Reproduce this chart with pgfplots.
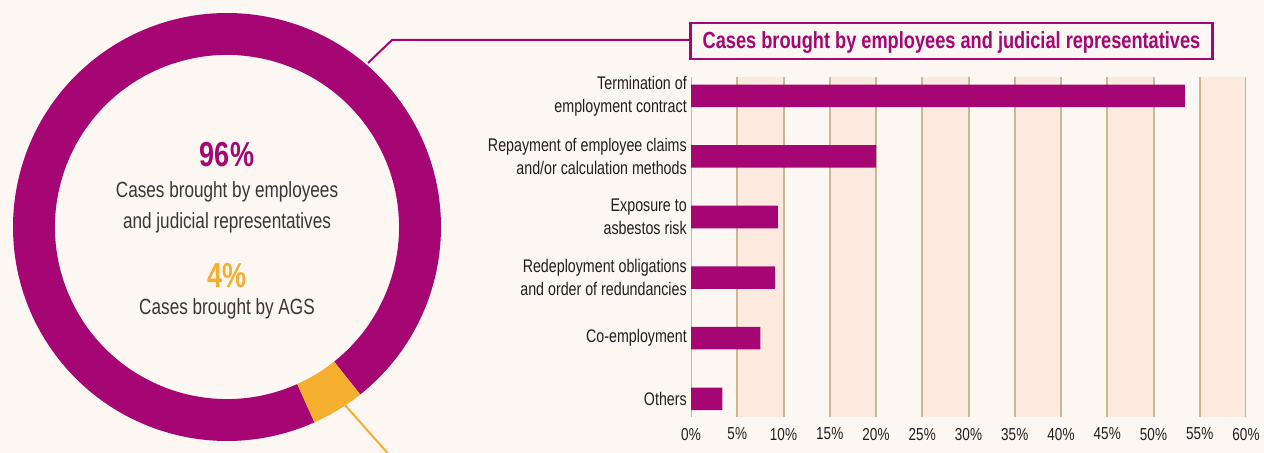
\documentclass[border=0pt]{standalone}
\usepackage{pgfplots}
\pgfplotsset{compat=1.18}
\usepackage{fontspec}
\setmainfont{Liberation Sans}[FakeStretch=0.78]

\definecolor{plum}{HTML}{A50673}
\definecolor{amber}{HTML}{F5AE2E}
\definecolor{paper}{HTML}{FCF7F3}
\definecolor{band}{HTML}{FCEADF}
\definecolor{rule}{HTML}{C7B996}
\definecolor{ink}{HTML}{231F20}
\definecolor{softink}{HTML}{3B3637}

% shares of the two groups of claimants (percent)
\def\shareEmployees{96}
\def\shareAGS{4}
% the AGS slice is centred at -58.7 degrees; the rest of the ring follows it
\pgfmathsetmacro\agsStart{-58.7-1.8*\shareAGS}
\pgfmathsetmacro\agsEnd{\agsStart+3.6*\shareAGS}
\pgfmathsetmacro\empEnd{\agsEnd+3.6*\shareEmployees}
\def\rin{0.804}
\pgfmathsetmacro\aOx{cos(\agsStart)}\pgfmathsetmacro\aOy{sin(\agsStart)}
\pgfmathsetmacro\aIx{\rin*cos(\agsEnd)}\pgfmathsetmacro\aIy{\rin*sin(\agsEnd)}
\pgfmathsetmacro\eOx{cos(\agsEnd)}\pgfmathsetmacro\eOy{sin(\agsEnd)}
\pgfmathsetmacro\eIx{\rin*cos(\empEnd)}\pgfmathsetmacro\eIy{\rin*sin(\empEnd)}

\begin{document}
\begin{tikzpicture}[x=0.75pt,y=0.75pt]
\fill[paper] (0,0) rectangle (1264,453);

% ring chart: share of cases by claimant
\begin{axis}[
  at={(170.25pt,169.5pt)}, anchor=center,
  scale only axis, width=321pt, height=321pt,
  xmin=-1, xmax=1, ymin=-1, ymax=1,
  hide axis, clip=false]
\fill[plum] (axis cs:\eOx,\eOy) arc[start angle=\agsEnd, end angle=\empEnd, radius=1]
  -- (axis cs:\eIx,\eIy) arc[start angle=\empEnd, end angle=\agsEnd, radius=\rin] -- cycle;
\fill[amber] (axis cs:\aOx,\aOy) arc[start angle=\agsStart, end angle=\agsEnd, radius=1]
  -- (axis cs:\aIx,\aIy) arc[start angle=\agsEnd, end angle=\agsStart, radius=\rin] -- cycle;
\end{axis}

% bar chart: types of case
\begin{axis}[
  at={(518.25pt,27pt)}, anchor=south west,
  scale only axis, width=416.25pt, height=255pt,
  xbar, bar width=16.9pt,
  xmin=0, xmax=60, ymin=-0.30, ymax=5.31,
  axis line style={draw=none},
  major tick length=0pt,
  xtick={0,5,...,60},
  xticklabels={0\%,5\%,10\%,15\%,20\%,25\%,30\%,35\%,40\%,45\%,50\%,55\%,60\%},
  ytick={0,1,2,3,4,5},
  yticklabels={Others,Co-employment,{Redeployment obligations\\and order of redundancies},{Exposure to\\asbestos risk},{Repayment of employee claims\\and/or calculation methods},{Termination of\\employment contract}},
  tick label style={text=ink},
  xticklabel style={font=\fontsize{13}{15}\selectfont, anchor=north, inner sep=0pt, yshift=-8pt},
  yticklabel style={font=\fontsize{13.7}{17.25}\selectfont, align=right, anchor=east, inner sep=0pt, xshift=-3pt},
]
% alternating bands, then the 5% rules
\fill[band] (axis cs:5,-0.30) rectangle (axis cs:10,5.31);
\fill[band] (axis cs:15,-0.30) rectangle (axis cs:20,5.31);
\fill[band] (axis cs:25,-0.30) rectangle (axis cs:30,5.31);
\fill[band] (axis cs:35,-0.30) rectangle (axis cs:40,5.31);
\fill[band] (axis cs:45,-0.30) rectangle (axis cs:50,5.31);
\fill[band] (axis cs:55,-0.30) rectangle (axis cs:60,5.31);
\pgfplotsinvokeforeach{0,5,10,15,20,25,30,35,40,45,50,55,60}{
  \draw[rule, line width=1.5pt] (axis cs:#1,-0.30) -- (axis cs:#1,5.31);
}
\addplot[fill=plum, draw=none] coordinates {(3.4,0) (7.5,1) (9.1,2) (9.4,3) (20.0,4) (53.4,5)};
\end{axis}

% leader lines and heading
\draw[plum, line width=1.5pt] (368,390) -- (392,413) -- (690.5,413);
\draw[amber, line width=1.5pt] (345,48) -- (387.5,0);
\draw[plum, line width=1.7pt, fill=paper] (690.5,394) rectangle (1212.5,430);
\node[anchor=base, text=plum, font=\bfseries\fontsize{17.5}{20}\selectfont] at (951.5,404)
  {Cases brought by employees and judicial representatives};

% centre of the ring
\node[anchor=base, text=plum, font=\bfseries\fontsize{26}{28}\selectfont] at (227,286) {96\%};
\node[anchor=base, text=softink, font=\fontsize{16.5}{20}\selectfont] at (227,255) {Cases brought by employees};
\node[anchor=base, text=softink, font=\fontsize{16.5}{20}\selectfont] at (227,224) {and judicial representatives};
\node[anchor=base, text=amber, font=\bfseries\fontsize{26}{28}\selectfont] at (227,165) {4\%};
\node[anchor=base, text=softink, font=\fontsize{16.5}{20}\selectfont] at (227,138) {Cases brought by AGS};

% the page is exactly the panel
\pgfresetboundingbox
\path[use as bounding box] (0,0) rectangle (1264,453);
\end{tikzpicture}
\end{document}
